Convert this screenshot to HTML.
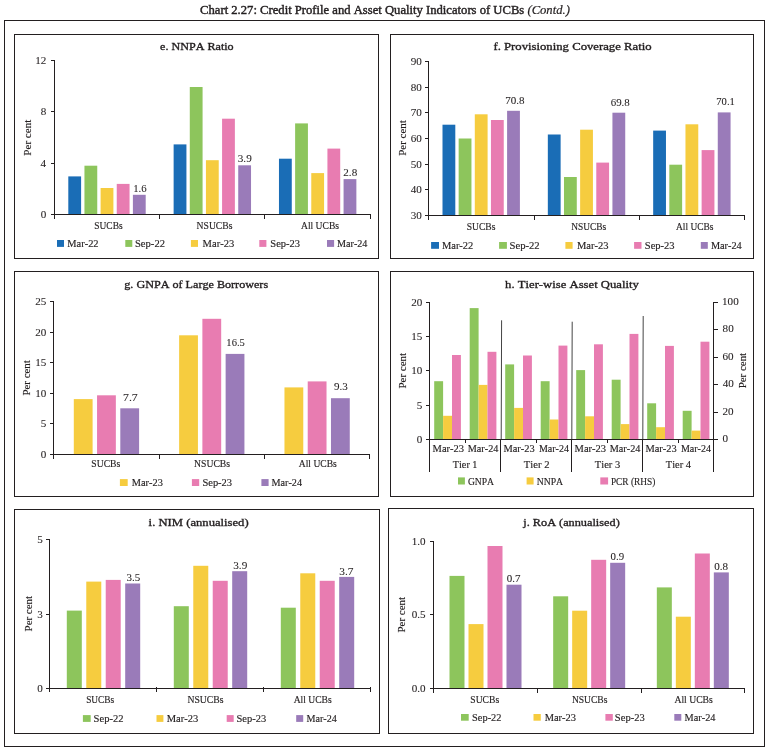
<!DOCTYPE html>
<html><head><meta charset="utf-8"><title>Chart 2.27: Credit Profile and Asset Quality Indicators of UCBs</title>
<style>
html,body{margin:0;padding:0;background:#fff;}
body{width:769px;height:751px;overflow:hidden;}
svg{display:block;will-change:transform;font-family:"Liberation Serif", serif;font-kerning:none;font-variant-ligatures:none;}
svg text{fill:#231f20;stroke:#231f20;stroke-width:0.15px;}
svg text.sb{stroke-width:0.34px;}
svg text.tk{stroke-width:0.08px;}
</style></head><body>
<svg width="769" height="751" viewBox="0 0 769 751">
<rect x="4.00" y="20.00" width="761.00" height="1.00" fill="#231f20"/>
<rect x="4.00" y="746.00" width="761.00" height="1.00" fill="#231f20"/>
<rect x="4.00" y="20.00" width="1.00" height="727.00" fill="#231f20"/>
<rect x="764.00" y="20.00" width="1.00" height="727.00" fill="#231f20"/>
<text x="200.08" y="14.2" font-size="12.2" class="sb" style="stroke-width:0.42px" textLength="369.81" lengthAdjust="spacingAndGlyphs">Chart 2.27: Credit Profile and Asset Quality Indicators of UCBs <tspan font-style="italic" style="stroke-width:0.2px">(Contd.)</tspan></text>
<rect x="14.00" y="34.00" width="365.00" height="1.00" fill="#231f20"/>
<rect x="14.00" y="258.00" width="365.00" height="1.00" fill="#231f20"/>
<rect x="14.00" y="34.00" width="1.00" height="225.00" fill="#231f20"/>
<rect x="378.00" y="34.00" width="1.00" height="225.00" fill="#231f20"/>
<text x="160.13" y="50.00" font-size="10.8" class="sb" textLength="73.53" lengthAdjust="spacingAndGlyphs">e. NNPA Ratio</text>
<rect x="54.00" y="60.00" width="1.00" height="155.00" fill="#231f20"/>
<rect x="51.00" y="214.00" width="4.00" height="1.00" fill="#231f20"/>
<text x="40.66" y="218.00" font-size="10.3" textLength="5.56" lengthAdjust="spacingAndGlyphs" class="tk">0</text>
<rect x="51.00" y="163.00" width="4.00" height="1.00" fill="#231f20"/>
<text x="40.41" y="167.00" font-size="10.3" textLength="5.56" lengthAdjust="spacingAndGlyphs" class="tk">4</text>
<rect x="51.00" y="111.00" width="4.00" height="1.00" fill="#231f20"/>
<text x="40.66" y="115.00" font-size="10.3" textLength="5.56" lengthAdjust="spacingAndGlyphs" class="tk">8</text>
<rect x="51.00" y="60.00" width="4.00" height="1.00" fill="#231f20"/>
<text x="35.29" y="64.00" font-size="10.3" textLength="11.12" lengthAdjust="spacingAndGlyphs" class="tk">12</text>
<rect x="54.00" y="214.00" width="317.00" height="1.00" fill="#231f20"/>
<rect x="54.00" y="214.00" width="1.00" height="5.00" fill="#231f20"/>
<rect x="159.00" y="214.00" width="1.00" height="5.00" fill="#231f20"/>
<rect x="264.00" y="214.00" width="1.00" height="5.00" fill="#231f20"/>
<rect x="370.00" y="214.00" width="1.00" height="5.00" fill="#231f20"/>
<rect x="68.30" y="176.40" width="12.80" height="37.60" fill="#1a6db6"/>
<rect x="84.45" y="165.70" width="12.80" height="48.30" fill="#8dc55c"/>
<rect x="100.60" y="188.00" width="12.80" height="26.00" fill="#f6cc3f"/>
<rect x="116.75" y="183.90" width="12.80" height="30.10" fill="#e87cb1"/>
<rect x="132.90" y="194.80" width="12.80" height="19.20" fill="#9a7bb9"/>
<rect x="173.63" y="144.40" width="12.80" height="69.60" fill="#1a6db6"/>
<rect x="189.78" y="87.00" width="12.80" height="127.00" fill="#8dc55c"/>
<rect x="205.93" y="160.20" width="12.80" height="53.80" fill="#f6cc3f"/>
<rect x="222.08" y="118.70" width="12.80" height="95.30" fill="#e87cb1"/>
<rect x="238.23" y="165.30" width="12.80" height="48.70" fill="#9a7bb9"/>
<rect x="278.97" y="158.70" width="12.80" height="55.30" fill="#1a6db6"/>
<rect x="295.12" y="123.40" width="12.80" height="90.60" fill="#8dc55c"/>
<rect x="311.27" y="173.10" width="12.80" height="40.90" fill="#f6cc3f"/>
<rect x="327.42" y="148.60" width="12.80" height="65.40" fill="#e87cb1"/>
<rect x="343.57" y="179.10" width="12.80" height="34.90" fill="#9a7bb9"/>
<text x="133.15" y="191.60" font-size="10.4" textLength="13.47" lengthAdjust="spacingAndGlyphs" class="tk">1.6</text>
<text x="237.76" y="162.30" font-size="10.4" textLength="13.99" lengthAdjust="spacingAndGlyphs" class="tk">3.9</text>
<text x="343.31" y="175.70" font-size="10.4" textLength="13.91" lengthAdjust="spacingAndGlyphs" class="tk">2.8</text>
<text x="94.27" y="228.80" font-size="10.4" textLength="28.37" lengthAdjust="spacingAndGlyphs">SUCBs</text>
<text x="196.62" y="228.80" font-size="10.4" textLength="35.82" lengthAdjust="spacingAndGlyphs">NSUCBs</text>
<text x="301.01" y="228.80" font-size="10.4" textLength="38.04" lengthAdjust="spacingAndGlyphs">All UCBs</text>
<rect x="57.00" y="240.00" width="7.00" height="6.90" fill="#1a6db6"/>
<text x="67.30" y="246.60" font-size="10.4" textLength="31.28" lengthAdjust="spacingAndGlyphs">Mar-22</text>
<rect x="125.30" y="240.00" width="7.00" height="6.90" fill="#8dc55c"/>
<text x="134.99" y="246.60" font-size="10.4" textLength="29.99" lengthAdjust="spacingAndGlyphs">Sep-22</text>
<rect x="190.90" y="240.00" width="7.10" height="6.90" fill="#f6cc3f"/>
<text x="202.60" y="246.60" font-size="10.4" textLength="31.62" lengthAdjust="spacingAndGlyphs">Mar-23</text>
<rect x="259.30" y="240.00" width="7.10" height="6.90" fill="#e87cb1"/>
<text x="270.30" y="246.60" font-size="10.4" textLength="29.71" lengthAdjust="spacingAndGlyphs">Sep-23</text>
<rect x="327.00" y="240.00" width="7.10" height="6.90" fill="#9a7bb9"/>
<text x="337.01" y="246.60" font-size="10.4" textLength="30.45" lengthAdjust="spacingAndGlyphs">Mar-24</text>
<text x="0" y="0" font-size="10.4" textLength="36.09" lengthAdjust="spacingAndGlyphs" transform="translate(31.00,155.72) rotate(-90)">Per cent</text>
<rect x="390.00" y="34.00" width="364.00" height="1.00" fill="#231f20"/>
<rect x="390.00" y="258.00" width="364.00" height="1.00" fill="#231f20"/>
<rect x="390.00" y="34.00" width="1.00" height="225.00" fill="#231f20"/>
<rect x="753.00" y="34.00" width="1.00" height="225.00" fill="#231f20"/>
<text x="493.41" y="49.70" font-size="10.8" class="sb" textLength="158.18" lengthAdjust="spacingAndGlyphs">f. Provisioning Coverage Ratio</text>
<rect x="428.00" y="61.00" width="1.00" height="155.00" fill="#231f20"/>
<rect x="425.00" y="215.00" width="4.00" height="1.00" fill="#231f20"/>
<text x="410.70" y="219.00" font-size="10.3" textLength="11.12" lengthAdjust="spacingAndGlyphs" class="tk">30</text>
<rect x="425.00" y="189.00" width="4.00" height="1.00" fill="#231f20"/>
<text x="410.70" y="193.00" font-size="10.3" textLength="11.12" lengthAdjust="spacingAndGlyphs" class="tk">40</text>
<rect x="425.00" y="164.00" width="4.00" height="1.00" fill="#231f20"/>
<text x="410.70" y="168.00" font-size="10.3" textLength="11.12" lengthAdjust="spacingAndGlyphs" class="tk">50</text>
<rect x="425.00" y="138.00" width="4.00" height="1.00" fill="#231f20"/>
<text x="410.70" y="142.00" font-size="10.3" textLength="11.12" lengthAdjust="spacingAndGlyphs" class="tk">60</text>
<rect x="425.00" y="112.00" width="4.00" height="1.00" fill="#231f20"/>
<text x="410.70" y="116.00" font-size="10.3" textLength="11.12" lengthAdjust="spacingAndGlyphs" class="tk">70</text>
<rect x="425.00" y="87.00" width="4.00" height="1.00" fill="#231f20"/>
<text x="410.70" y="91.00" font-size="10.3" textLength="11.12" lengthAdjust="spacingAndGlyphs" class="tk">80</text>
<rect x="425.00" y="61.00" width="4.00" height="1.00" fill="#231f20"/>
<text x="410.70" y="65.00" font-size="10.3" textLength="11.12" lengthAdjust="spacingAndGlyphs" class="tk">90</text>
<rect x="428.00" y="215.00" width="317.00" height="1.00" fill="#231f20"/>
<rect x="428.00" y="215.00" width="1.00" height="5.00" fill="#231f20"/>
<rect x="534.00" y="215.00" width="1.00" height="5.00" fill="#231f20"/>
<rect x="639.00" y="215.00" width="1.00" height="5.00" fill="#231f20"/>
<rect x="744.00" y="215.00" width="1.00" height="5.00" fill="#231f20"/>
<rect x="442.50" y="124.70" width="12.80" height="90.30" fill="#1a6db6"/>
<rect x="458.65" y="138.50" width="12.80" height="76.50" fill="#8dc55c"/>
<rect x="474.80" y="114.30" width="12.80" height="100.70" fill="#f6cc3f"/>
<rect x="490.95" y="120.00" width="12.80" height="95.00" fill="#e87cb1"/>
<rect x="507.10" y="110.80" width="12.80" height="104.20" fill="#9a7bb9"/>
<rect x="547.83" y="134.50" width="12.80" height="80.50" fill="#1a6db6"/>
<rect x="563.98" y="177.00" width="12.80" height="38.00" fill="#8dc55c"/>
<rect x="580.13" y="129.70" width="12.80" height="85.30" fill="#f6cc3f"/>
<rect x="596.28" y="162.60" width="12.80" height="52.40" fill="#e87cb1"/>
<rect x="612.43" y="112.70" width="12.80" height="102.30" fill="#9a7bb9"/>
<rect x="653.17" y="130.60" width="12.80" height="84.40" fill="#1a6db6"/>
<rect x="669.32" y="164.70" width="12.80" height="50.30" fill="#8dc55c"/>
<rect x="685.47" y="124.30" width="12.80" height="90.70" fill="#f6cc3f"/>
<rect x="701.62" y="150.10" width="12.80" height="64.90" fill="#e87cb1"/>
<rect x="717.77" y="112.40" width="12.80" height="102.60" fill="#9a7bb9"/>
<text x="505.27" y="103.80" font-size="10.4" textLength="19.35" lengthAdjust="spacingAndGlyphs" class="tk">70.8</text>
<text x="610.73" y="105.60" font-size="10.4" textLength="19.08" lengthAdjust="spacingAndGlyphs" class="tk">69.8</text>
<text x="716.30" y="105.10" font-size="10.4" textLength="18.53" lengthAdjust="spacingAndGlyphs" class="tk">70.1</text>
<text x="466.76" y="229.60" font-size="10.4" textLength="28.68" lengthAdjust="spacingAndGlyphs">SUCBs</text>
<text x="571.33" y="229.60" font-size="10.4" textLength="34.91" lengthAdjust="spacingAndGlyphs">NSUCBs</text>
<text x="676.01" y="229.60" font-size="10.4" textLength="37.43" lengthAdjust="spacingAndGlyphs">All UCBs</text>
<rect x="431.10" y="242.00" width="7.90" height="6.80" fill="#1a6db6"/>
<text x="441.90" y="248.60" font-size="10.4" textLength="31.48" lengthAdjust="spacingAndGlyphs">Mar-22</text>
<rect x="499.10" y="242.00" width="7.80" height="6.80" fill="#8dc55c"/>
<text x="509.49" y="248.60" font-size="10.4" textLength="30.20" lengthAdjust="spacingAndGlyphs">Sep-22</text>
<rect x="565.40" y="242.00" width="7.20" height="6.80" fill="#f6cc3f"/>
<text x="577.00" y="248.60" font-size="10.4" textLength="31.62" lengthAdjust="spacingAndGlyphs">Mar-23</text>
<rect x="634.10" y="242.00" width="7.40" height="6.80" fill="#e87cb1"/>
<text x="644.80" y="248.60" font-size="10.4" textLength="29.82" lengthAdjust="spacingAndGlyphs">Sep-23</text>
<rect x="700.80" y="242.00" width="7.00" height="6.80" fill="#9a7bb9"/>
<text x="710.90" y="248.60" font-size="10.4" textLength="30.86" lengthAdjust="spacingAndGlyphs">Mar-24</text>
<text x="0" y="0" font-size="10.4" textLength="35.68" lengthAdjust="spacingAndGlyphs" transform="translate(405.80,155.82) rotate(-90)">Per cent</text>
<rect x="14.00" y="271.00" width="365.00" height="1.00" fill="#231f20"/>
<rect x="14.00" y="496.00" width="365.00" height="1.00" fill="#231f20"/>
<rect x="14.00" y="271.00" width="1.00" height="226.00" fill="#231f20"/>
<rect x="378.00" y="271.00" width="1.00" height="226.00" fill="#231f20"/>
<text x="124.28" y="287.90" font-size="10.8" class="sb" textLength="143.86" lengthAdjust="spacingAndGlyphs">g. GNPA of Large Borrowers</text>
<rect x="53.00" y="301.00" width="1.00" height="154.00" fill="#231f20"/>
<rect x="50.00" y="454.00" width="4.00" height="1.00" fill="#231f20"/>
<text x="40.76" y="458.00" font-size="10.3" textLength="5.56" lengthAdjust="spacingAndGlyphs" class="tk">0</text>
<rect x="50.00" y="423.00" width="4.00" height="1.00" fill="#231f20"/>
<text x="40.77" y="427.00" font-size="10.3" textLength="5.56" lengthAdjust="spacingAndGlyphs" class="tk">5</text>
<rect x="50.00" y="393.00" width="4.00" height="1.00" fill="#231f20"/>
<text x="35.20" y="397.00" font-size="10.3" textLength="11.12" lengthAdjust="spacingAndGlyphs" class="tk">10</text>
<rect x="50.00" y="362.00" width="4.00" height="1.00" fill="#231f20"/>
<text x="35.21" y="366.00" font-size="10.3" textLength="11.12" lengthAdjust="spacingAndGlyphs" class="tk">15</text>
<rect x="50.00" y="332.00" width="4.00" height="1.00" fill="#231f20"/>
<text x="35.20" y="336.00" font-size="10.3" textLength="11.12" lengthAdjust="spacingAndGlyphs" class="tk">20</text>
<rect x="50.00" y="301.00" width="4.00" height="1.00" fill="#231f20"/>
<text x="35.21" y="305.00" font-size="10.3" textLength="11.12" lengthAdjust="spacingAndGlyphs" class="tk">25</text>
<rect x="53.00" y="454.00" width="317.00" height="1.00" fill="#231f20"/>
<rect x="53.00" y="454.00" width="1.00" height="5.00" fill="#231f20"/>
<rect x="159.00" y="454.00" width="1.00" height="5.00" fill="#231f20"/>
<rect x="264.00" y="454.00" width="1.00" height="5.00" fill="#231f20"/>
<rect x="369.00" y="454.00" width="1.00" height="5.00" fill="#231f20"/>
<rect x="73.80" y="399.10" width="18.80" height="54.90" fill="#f6cc3f"/>
<rect x="97.05" y="395.30" width="18.80" height="58.70" fill="#e87cb1"/>
<rect x="120.30" y="408.30" width="18.80" height="45.70" fill="#9a7bb9"/>
<rect x="179.13" y="335.30" width="18.80" height="118.70" fill="#f6cc3f"/>
<rect x="202.38" y="318.80" width="18.80" height="135.20" fill="#e87cb1"/>
<rect x="225.63" y="353.90" width="18.80" height="100.10" fill="#9a7bb9"/>
<rect x="284.47" y="387.40" width="18.80" height="66.60" fill="#f6cc3f"/>
<rect x="307.72" y="381.40" width="18.80" height="72.60" fill="#e87cb1"/>
<rect x="330.97" y="398.20" width="18.80" height="55.80" fill="#9a7bb9"/>
<text x="123.02" y="400.60" font-size="10.4" textLength="14.72" lengthAdjust="spacingAndGlyphs" class="tk">7.7</text>
<text x="226.37" y="346.30" font-size="10.4" textLength="18.44" lengthAdjust="spacingAndGlyphs" class="tk">16.5</text>
<text x="334.04" y="390.30" font-size="10.4" textLength="13.79" lengthAdjust="spacingAndGlyphs" class="tk">9.3</text>
<text x="91.36" y="466.90" font-size="10.4" textLength="28.89" lengthAdjust="spacingAndGlyphs">SUCBs</text>
<text x="194.12" y="466.90" font-size="10.4" textLength="35.93" lengthAdjust="spacingAndGlyphs">NSUCBs</text>
<text x="298.81" y="466.90" font-size="10.4" textLength="38.04" lengthAdjust="spacingAndGlyphs">All UCBs</text>
<rect x="119.90" y="479.10" width="7.80" height="6.90" fill="#f6cc3f"/>
<text x="131.80" y="485.80" font-size="10.4" textLength="31.10" lengthAdjust="spacingAndGlyphs">Mar-23</text>
<rect x="191.90" y="479.10" width="7.30" height="6.90" fill="#e87cb1"/>
<text x="202.40" y="485.80" font-size="10.4" textLength="29.71" lengthAdjust="spacingAndGlyphs">Sep-23</text>
<rect x="261.40" y="479.10" width="7.20" height="6.90" fill="#9a7bb9"/>
<text x="271.51" y="485.80" font-size="10.4" textLength="30.55" lengthAdjust="spacingAndGlyphs">Mar-24</text>
<text x="0" y="0" font-size="10.4" textLength="35.48" lengthAdjust="spacingAndGlyphs" transform="translate(29.80,395.61) rotate(-90)">Per cent</text>
<rect x="14.00" y="509.00" width="366.00" height="1.00" fill="#231f20"/>
<rect x="14.00" y="733.00" width="366.00" height="1.00" fill="#231f20"/>
<rect x="14.00" y="509.00" width="1.00" height="225.00" fill="#231f20"/>
<rect x="379.00" y="509.00" width="1.00" height="225.00" fill="#231f20"/>
<text x="148.63" y="526.40" font-size="10.8" class="sb" textLength="100.02" lengthAdjust="spacingAndGlyphs">i. NIM (annualised)</text>
<rect x="49.00" y="539.00" width="1.00" height="150.00" fill="#231f20"/>
<rect x="46.00" y="688.00" width="4.00" height="1.00" fill="#231f20"/>
<text x="37.16" y="692.00" font-size="10.3" textLength="5.56" lengthAdjust="spacingAndGlyphs" class="tk">0</text>
<rect x="46.00" y="614.00" width="4.00" height="1.00" fill="#231f20"/>
<text x="37.17" y="618.00" font-size="10.3" textLength="5.56" lengthAdjust="spacingAndGlyphs" class="tk">3</text>
<rect x="46.00" y="539.00" width="4.00" height="1.00" fill="#231f20"/>
<text x="37.17" y="543.00" font-size="10.3" textLength="5.56" lengthAdjust="spacingAndGlyphs" class="tk">5</text>
<rect x="49.00" y="688.00" width="322.00" height="1.00" fill="#231f20"/>
<rect x="49.00" y="688.00" width="1.00" height="4.00" fill="#231f20"/>
<rect x="156.00" y="687.00" width="1.00" height="5.00" fill="#231f20"/>
<rect x="263.00" y="687.00" width="1.00" height="5.00" fill="#231f20"/>
<rect x="370.00" y="687.00" width="1.00" height="5.00" fill="#231f20"/>
<rect x="66.80" y="610.60" width="15.00" height="77.40" fill="#8dc55c"/>
<rect x="86.27" y="581.60" width="15.00" height="106.40" fill="#f6cc3f"/>
<rect x="105.73" y="579.90" width="15.00" height="108.10" fill="#e87cb1"/>
<rect x="125.20" y="583.50" width="15.00" height="104.50" fill="#9a7bb9"/>
<rect x="173.80" y="606.20" width="15.00" height="81.80" fill="#8dc55c"/>
<rect x="193.27" y="565.80" width="15.00" height="122.20" fill="#f6cc3f"/>
<rect x="212.73" y="580.80" width="15.00" height="107.20" fill="#e87cb1"/>
<rect x="232.20" y="571.20" width="15.00" height="116.80" fill="#9a7bb9"/>
<rect x="280.80" y="607.70" width="15.00" height="80.30" fill="#8dc55c"/>
<rect x="300.27" y="573.30" width="15.00" height="114.70" fill="#f6cc3f"/>
<rect x="319.73" y="580.80" width="15.00" height="107.20" fill="#e87cb1"/>
<rect x="339.20" y="576.90" width="15.00" height="111.10" fill="#9a7bb9"/>
<text x="126.47" y="580.60" font-size="10.4" textLength="13.76" lengthAdjust="spacingAndGlyphs" class="tk">3.5</text>
<text x="233.26" y="568.80" font-size="10.4" textLength="13.99" lengthAdjust="spacingAndGlyphs" class="tk">3.9</text>
<text x="339.26" y="574.50" font-size="10.4" textLength="14.17" lengthAdjust="spacingAndGlyphs" class="tk">3.7</text>
<text x="86.17" y="702.70" font-size="10.4" textLength="28.06" lengthAdjust="spacingAndGlyphs">SUCBs</text>
<text x="187.42" y="702.70" font-size="10.4" textLength="36.03" lengthAdjust="spacingAndGlyphs">NSUCBs</text>
<text x="293.71" y="702.70" font-size="10.4" textLength="38.04" lengthAdjust="spacingAndGlyphs">All UCBs</text>
<rect x="82.90" y="715.10" width="7.80" height="6.80" fill="#8dc55c"/>
<text x="93.59" y="721.90" font-size="10.4" textLength="29.89" lengthAdjust="spacingAndGlyphs">Sep-22</text>
<rect x="156.50" y="715.10" width="6.90" height="6.80" fill="#f6cc3f"/>
<text x="166.70" y="721.90" font-size="10.4" textLength="31.62" lengthAdjust="spacingAndGlyphs">Mar-23</text>
<rect x="226.70" y="715.10" width="7.00" height="6.80" fill="#e87cb1"/>
<text x="236.50" y="721.90" font-size="10.4" textLength="29.61" lengthAdjust="spacingAndGlyphs">Sep-23</text>
<rect x="296.20" y="715.10" width="7.00" height="6.80" fill="#9a7bb9"/>
<text x="306.41" y="721.90" font-size="10.4" textLength="30.35" lengthAdjust="spacingAndGlyphs">Mar-24</text>
<text x="0" y="0" font-size="10.4" textLength="35.48" lengthAdjust="spacingAndGlyphs" transform="translate(31.70,631.41) rotate(-90)">Per cent</text>
<rect x="388.00" y="508.00" width="366.00" height="1.00" fill="#231f20"/>
<rect x="388.00" y="733.00" width="366.00" height="1.00" fill="#231f20"/>
<rect x="388.00" y="508.00" width="1.00" height="226.00" fill="#231f20"/>
<rect x="753.00" y="508.00" width="1.00" height="226.00" fill="#231f20"/>
<text x="523.25" y="525.60" font-size="10.8" class="sb" textLength="96.49" lengthAdjust="spacingAndGlyphs">j. RoA (annualised)</text>
<rect x="433.00" y="541.00" width="1.00" height="148.00" fill="#231f20"/>
<rect x="430.00" y="688.00" width="4.00" height="1.00" fill="#231f20"/>
<text x="411.72" y="692.00" font-size="10.3" textLength="13.91" lengthAdjust="spacingAndGlyphs" class="tk">0.0</text>
<rect x="430.00" y="614.00" width="4.00" height="1.00" fill="#231f20"/>
<text x="411.73" y="618.00" font-size="10.3" textLength="13.91" lengthAdjust="spacingAndGlyphs" class="tk">0.5</text>
<rect x="430.00" y="541.00" width="4.00" height="1.00" fill="#231f20"/>
<text x="411.72" y="545.00" font-size="10.3" textLength="13.91" lengthAdjust="spacingAndGlyphs" class="tk">1.0</text>
<rect x="433.00" y="688.00" width="312.00" height="1.00" fill="#231f20"/>
<rect x="433.00" y="688.00" width="1.00" height="5.00" fill="#231f20"/>
<rect x="537.00" y="688.00" width="1.00" height="5.00" fill="#231f20"/>
<rect x="641.00" y="688.00" width="1.00" height="5.00" fill="#231f20"/>
<rect x="744.00" y="688.00" width="1.00" height="5.00" fill="#231f20"/>
<rect x="449.50" y="575.90" width="15.00" height="112.10" fill="#8dc55c"/>
<rect x="468.50" y="624.10" width="15.00" height="63.90" fill="#f6cc3f"/>
<rect x="487.50" y="546.00" width="15.00" height="142.00" fill="#e87cb1"/>
<rect x="506.50" y="584.70" width="15.00" height="103.30" fill="#9a7bb9"/>
<rect x="553.17" y="596.30" width="15.00" height="91.70" fill="#8dc55c"/>
<rect x="572.17" y="610.70" width="15.00" height="77.30" fill="#f6cc3f"/>
<rect x="591.17" y="559.80" width="15.00" height="128.20" fill="#e87cb1"/>
<rect x="610.17" y="562.80" width="15.00" height="125.20" fill="#9a7bb9"/>
<rect x="656.83" y="587.40" width="15.00" height="100.60" fill="#8dc55c"/>
<rect x="675.83" y="616.70" width="15.00" height="71.30" fill="#f6cc3f"/>
<rect x="694.83" y="553.50" width="15.00" height="134.50" fill="#e87cb1"/>
<rect x="713.83" y="572.40" width="15.00" height="115.60" fill="#9a7bb9"/>
<text x="506.88" y="581.60" font-size="10.4" textLength="13.74" lengthAdjust="spacingAndGlyphs" class="tk">0.7</text>
<text x="610.59" y="559.80" font-size="10.4" textLength="13.56" lengthAdjust="spacingAndGlyphs" class="tk">0.9</text>
<text x="714.18" y="569.80" font-size="10.4" textLength="13.84" lengthAdjust="spacingAndGlyphs" class="tk">0.8</text>
<text x="470.36" y="702.50" font-size="10.4" textLength="28.79" lengthAdjust="spacingAndGlyphs">SUCBs</text>
<text x="571.93" y="702.50" font-size="10.4" textLength="35.52" lengthAdjust="spacingAndGlyphs">NSUCBs</text>
<text x="674.41" y="702.50" font-size="10.4" textLength="38.44" lengthAdjust="spacingAndGlyphs">All UCBs</text>
<rect x="461.00" y="714.00" width="7.70" height="6.70" fill="#8dc55c"/>
<text x="472.11" y="720.70" font-size="10.4" textLength="29.37" lengthAdjust="spacingAndGlyphs">Sep-22</text>
<rect x="533.50" y="714.00" width="7.30" height="6.70" fill="#f6cc3f"/>
<text x="544.70" y="720.70" font-size="10.4" textLength="31.31" lengthAdjust="spacingAndGlyphs">Mar-23</text>
<rect x="605.40" y="714.00" width="7.40" height="6.70" fill="#e87cb1"/>
<text x="614.89" y="720.70" font-size="10.4" textLength="29.92" lengthAdjust="spacingAndGlyphs">Sep-23</text>
<rect x="674.30" y="714.00" width="7.00" height="6.70" fill="#9a7bb9"/>
<text x="684.50" y="720.70" font-size="10.4" textLength="30.96" lengthAdjust="spacingAndGlyphs">Mar-24</text>
<text x="0" y="0" font-size="10.4" textLength="35.58" lengthAdjust="spacingAndGlyphs" transform="translate(404.90,632.52) rotate(-90)">Per cent</text>
<rect x="390.00" y="271.00" width="364.00" height="1.00" fill="#231f20"/>
<rect x="390.00" y="496.00" width="364.00" height="1.00" fill="#231f20"/>
<rect x="390.00" y="271.00" width="1.00" height="226.00" fill="#231f20"/>
<rect x="753.00" y="271.00" width="1.00" height="226.00" fill="#231f20"/>
<text x="505.08" y="287.70" font-size="10.8" class="sb" textLength="133.77" lengthAdjust="spacingAndGlyphs">h. Tier-wise Asset Quality</text>
<rect x="429.00" y="302.00" width="1.00" height="170.00" fill="#231f20"/>
<rect x="426.00" y="439.00" width="4.00" height="1.00" fill="#231f20"/>
<text x="416.86" y="443.00" font-size="10.3" textLength="5.56" lengthAdjust="spacingAndGlyphs" class="tk">0</text>
<rect x="426.00" y="405.00" width="4.00" height="1.00" fill="#231f20"/>
<text x="416.87" y="409.00" font-size="10.3" textLength="5.56" lengthAdjust="spacingAndGlyphs" class="tk">5</text>
<rect x="426.00" y="370.00" width="4.00" height="1.00" fill="#231f20"/>
<text x="411.30" y="374.00" font-size="10.3" textLength="11.12" lengthAdjust="spacingAndGlyphs" class="tk">10</text>
<rect x="426.00" y="336.00" width="4.00" height="1.00" fill="#231f20"/>
<text x="411.31" y="340.00" font-size="10.3" textLength="11.12" lengthAdjust="spacingAndGlyphs" class="tk">15</text>
<rect x="426.00" y="302.00" width="4.00" height="1.00" fill="#231f20"/>
<text x="411.30" y="306.00" font-size="10.3" textLength="11.12" lengthAdjust="spacingAndGlyphs" class="tk">20</text>
<rect x="713.00" y="302.00" width="1.00" height="170.00" fill="#231f20"/>
<rect x="713.00" y="439.00" width="5.00" height="1.00" fill="#231f20"/>
<text x="722.58" y="442.40" font-size="10.3" textLength="5.56" lengthAdjust="spacingAndGlyphs" class="tk">0</text>
<rect x="713.00" y="412.00" width="5.00" height="1.00" fill="#231f20"/>
<text x="722.51" y="415.40" font-size="10.3" textLength="11.12" lengthAdjust="spacingAndGlyphs" class="tk">20</text>
<rect x="713.00" y="384.00" width="5.00" height="1.00" fill="#231f20"/>
<text x="722.78" y="387.40" font-size="10.3" textLength="11.12" lengthAdjust="spacingAndGlyphs" class="tk">40</text>
<rect x="713.00" y="357.00" width="5.00" height="1.00" fill="#231f20"/>
<text x="722.52" y="360.40" font-size="10.3" textLength="11.12" lengthAdjust="spacingAndGlyphs" class="tk">60</text>
<rect x="713.00" y="329.00" width="5.00" height="1.00" fill="#231f20"/>
<text x="722.58" y="332.40" font-size="10.3" textLength="11.12" lengthAdjust="spacingAndGlyphs" class="tk">80</text>
<rect x="713.00" y="302.00" width="5.00" height="1.00" fill="#231f20"/>
<text x="722.02" y="305.40" font-size="10.3" textLength="16.69" lengthAdjust="spacingAndGlyphs" class="tk">100</text>
<rect x="429.00" y="439.00" width="285.00" height="1.00" fill="#231f20"/>
<rect x="465.00" y="439.00" width="1.00" height="4.00" fill="#231f20"/>
<text x="452.82" y="468.30" font-size="10.4" textLength="24.60" lengthAdjust="spacingAndGlyphs">Tier 1</text>
<text x="432.60" y="452.30" font-size="10.4" textLength="31.51" lengthAdjust="spacingAndGlyphs">Mar-23</text>
<rect x="434.20" y="381.20" width="8.90" height="57.80" fill="#8dc55c"/>
<rect x="443.10" y="415.80" width="8.90" height="23.20" fill="#f6cc3f"/>
<rect x="452.00" y="355.00" width="8.90" height="84.00" fill="#e87cb1"/>
<text x="467.71" y="452.30" font-size="10.4" textLength="30.65" lengthAdjust="spacingAndGlyphs">Mar-24</text>
<rect x="469.70" y="308.10" width="8.90" height="130.90" fill="#8dc55c"/>
<rect x="478.60" y="384.90" width="8.90" height="54.10" fill="#f6cc3f"/>
<rect x="487.50" y="351.80" width="8.90" height="87.20" fill="#e87cb1"/>
<rect x="500.00" y="439.00" width="1.00" height="33.00" fill="#231f20"/>
<rect x="536.00" y="439.00" width="1.00" height="4.00" fill="#231f20"/>
<text x="523.81" y="468.30" font-size="10.4" textLength="25.68" lengthAdjust="spacingAndGlyphs">Tier 2</text>
<text x="503.40" y="452.30" font-size="10.4" textLength="31.31" lengthAdjust="spacingAndGlyphs">Mar-23</text>
<rect x="505.20" y="364.40" width="8.90" height="74.60" fill="#8dc55c"/>
<rect x="514.10" y="407.90" width="8.90" height="31.10" fill="#f6cc3f"/>
<rect x="523.00" y="355.50" width="8.90" height="83.50" fill="#e87cb1"/>
<text x="538.91" y="452.30" font-size="10.4" textLength="30.05" lengthAdjust="spacingAndGlyphs">Mar-24</text>
<rect x="540.70" y="381.20" width="8.90" height="57.80" fill="#8dc55c"/>
<rect x="549.60" y="419.50" width="8.90" height="19.50" fill="#f6cc3f"/>
<rect x="558.50" y="345.60" width="8.90" height="93.40" fill="#e87cb1"/>
<rect x="571.00" y="439.00" width="1.00" height="33.00" fill="#231f20"/>
<rect x="607.00" y="439.00" width="1.00" height="4.00" fill="#231f20"/>
<text x="594.81" y="468.30" font-size="10.4" textLength="25.40" lengthAdjust="spacingAndGlyphs">Tier 3</text>
<text x="574.60" y="452.30" font-size="10.4" textLength="31.51" lengthAdjust="spacingAndGlyphs">Mar-23</text>
<rect x="576.20" y="370.10" width="8.90" height="68.90" fill="#8dc55c"/>
<rect x="585.10" y="416.30" width="8.90" height="22.70" fill="#f6cc3f"/>
<rect x="594.00" y="344.30" width="8.90" height="94.70" fill="#e87cb1"/>
<text x="609.71" y="452.30" font-size="10.4" textLength="30.65" lengthAdjust="spacingAndGlyphs">Mar-24</text>
<rect x="611.70" y="379.70" width="8.90" height="59.30" fill="#8dc55c"/>
<rect x="620.60" y="424.10" width="8.90" height="14.90" fill="#f6cc3f"/>
<rect x="629.50" y="333.90" width="8.90" height="105.10" fill="#e87cb1"/>
<rect x="642.00" y="439.00" width="1.00" height="33.00" fill="#231f20"/>
<rect x="678.00" y="439.00" width="1.00" height="4.00" fill="#231f20"/>
<text x="665.81" y="468.30" font-size="10.4" textLength="25.25" lengthAdjust="spacingAndGlyphs">Tier 4</text>
<text x="645.40" y="452.30" font-size="10.4" textLength="31.31" lengthAdjust="spacingAndGlyphs">Mar-23</text>
<rect x="647.20" y="403.30" width="8.90" height="35.70" fill="#8dc55c"/>
<rect x="656.10" y="427.20" width="8.90" height="11.80" fill="#f6cc3f"/>
<rect x="665.00" y="345.90" width="8.90" height="93.10" fill="#e87cb1"/>
<text x="680.91" y="452.30" font-size="10.4" textLength="30.05" lengthAdjust="spacingAndGlyphs">Mar-24</text>
<rect x="682.70" y="410.80" width="8.90" height="28.20" fill="#8dc55c"/>
<rect x="691.60" y="430.60" width="8.90" height="8.40" fill="#f6cc3f"/>
<rect x="700.50" y="341.70" width="8.90" height="97.30" fill="#e87cb1"/>
<line x1="501.60" y1="320.30" x2="501.20" y2="439" stroke="#444" stroke-width="1"/>
<line x1="572.20" y1="321.70" x2="571.80" y2="439" stroke="#444" stroke-width="1"/>
<line x1="643.20" y1="316.00" x2="642.80" y2="439" stroke="#444" stroke-width="1"/>
<rect x="458.00" y="477.40" width="6.90" height="7.10" fill="#8dc55c"/>
<text x="467.91" y="484.90" font-size="10.4" textLength="26.16" lengthAdjust="spacingAndGlyphs">GNPA</text>
<rect x="526.60" y="477.40" width="7.00" height="7.10" fill="#f6cc3f"/>
<text x="536.72" y="484.90" font-size="10.4" textLength="26.35" lengthAdjust="spacingAndGlyphs">NNPA</text>
<rect x="600.30" y="477.40" width="7.80" height="7.10" fill="#e87cb1"/>
<text x="610.93" y="484.90" font-size="10.4" textLength="44.38" lengthAdjust="spacingAndGlyphs">PCR (RHS)</text>
<text x="0" y="0" font-size="10.4" textLength="35.78" lengthAdjust="spacingAndGlyphs" transform="translate(405.80,388.62) rotate(-90)">Per cent</text>
<text x="0" y="0" font-size="10.4" textLength="35.48" lengthAdjust="spacingAndGlyphs" transform="translate(745.60,388.31) rotate(-90)">Per cent</text>
</svg>
</body></html>
